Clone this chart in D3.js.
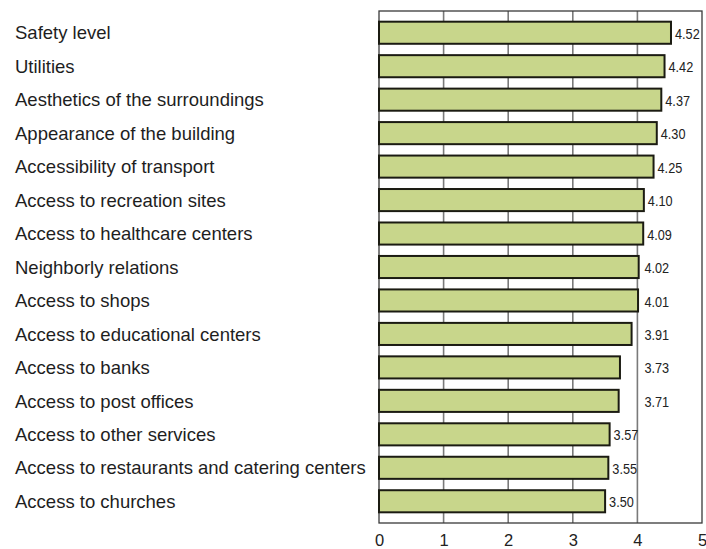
<!DOCTYPE html>
<html>
<head>
<meta charset="utf-8">
<script src="https://cdn.jsdelivr.net/npm/d3@7"></script>
<style>
  html, body { margin: 0; padding: 0; background: #fff; }
  svg { display: block; }
</style>
</head>
<body>
<svg id="chart" width="706" height="549"></svg>
<script>
const categories = [
  "Safety level",
  "Utilities",
  "Aesthetics of the surroundings",
  "Appearance of the building",
  "Accessibility of transport",
  "Access to recreation sites",
  "Access to healthcare centers",
  "Neighborly relations",
  "Access to shops",
  "Access to educational centers",
  "Access to banks",
  "Access to post offices",
  "Access to other services",
  "Access to restaurants and catering centers",
  "Access to churches"
];
const values = [4.52, 4.42, 4.37, 4.30, 4.25, 4.10, 4.09, 4.02, 4.01, 3.91, 3.73, 3.71, 3.57, 3.55, 3.50];
const xTicks = [0, 1, 2, 3, 4, 5];

const svg = d3.select("#chart");
const frame = { left: 379, right: 702, top: 11, bottom: 523 };

const x = d3.scaleLinear().domain([0, 5]).range([frame.left, frame.right]);
const y = d3.scaleBand().domain(categories).range([16, 518]).paddingInner(0.34).paddingOuter(0.17);

// gridlines
svg.append("g").selectAll("line")
  .data(xTicks.filter(t => t > 0 && t < 5))
  .join("line")
  .attr("x1", d => x(d)).attr("x2", d => x(d))
  .attr("y1", frame.top).attr("y2", frame.bottom)
  .attr("stroke", "#7a7a7a").attr("stroke-width", 1.6);

// frame
svg.append("rect")
  .attr("x", frame.left).attr("y", frame.top)
  .attr("width", frame.right - frame.left).attr("height", frame.bottom - frame.top)
  .attr("fill", "none").attr("stroke", "#3a3a3a").attr("stroke-width", 1.3);

// bars
svg.append("g").selectAll("rect")
  .data(values)
  .join("rect")
  .attr("x", x(0))
  .attr("y", (d, i) => y(categories[i]))
  .attr("width", d => x(d) - x(0))
  .attr("height", y.bandwidth())
  .attr("fill", "#c8d68b")
  .attr("stroke", "#1b1b12")
  .attr("stroke-width", 2);

// value labels (condensed); labels close to the "4" gridline are moved past it
function labelX(v) {
  const end = x(v) + 4;
  const g = x(4);
  if (end < g + 6 && g - x(v) < 20) return g + 7;
  return end;
}
svg.append("g").selectAll("text")
  .data(values)
  .join("text")
  .attr("transform", (d, i) => `translate(${labelX(d)}, ${y(categories[i]) + y.bandwidth() / 2 + 0.5}) scale(0.82, 1)`)
  .attr("dy", "0.36em")
  .attr("font-family", "'Liberation Sans', Arial, sans-serif")
  .attr("font-size", 15.5)
  .attr("fill", "#222")
  .text(d => d.toFixed(2));

// category labels
svg.append("g").selectAll("text")
  .data(categories)
  .join("text")
  .attr("x", 15)
  .attr("y", d => y(d) + y.bandwidth() / 2)
  .attr("dy", "0.36em")
  .attr("font-family", "'Liberation Sans', Arial, sans-serif")
  .attr("font-size", 18.5)
  .attr("fill", "#1e1e1e")
  .text(d => d);

// x axis labels
const axis = d3.axisBottom(x).tickValues(xTicks).tickSize(0).tickPadding(0).tickFormat(d3.format("d"));
const gAxis = svg.append("g").attr("transform", `translate(0, ${frame.bottom + 11})`).call(axis);
gAxis.select(".domain").remove();
gAxis.selectAll("text")
  .attr("font-family", "'Liberation Sans', Arial, sans-serif")
  .attr("font-size", 16.5)
  .attr("fill", "#222");
</script>
</body>
</html>
